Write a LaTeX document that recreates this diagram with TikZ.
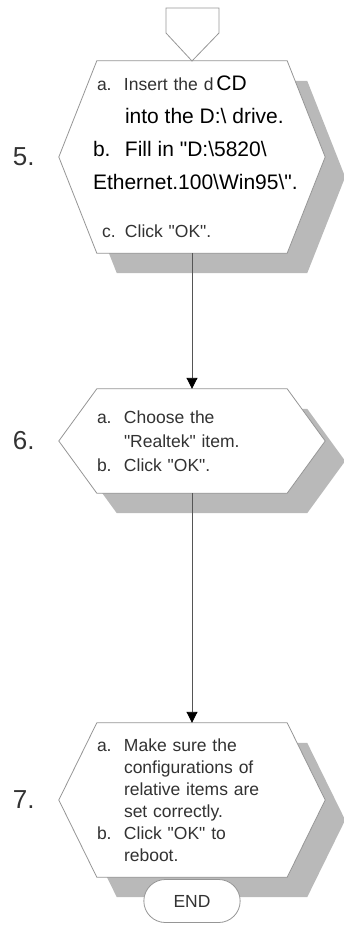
\documentclass[tikz,border=0pt]{standalone}
\usepackage{fontspec}
\setmainfont{Liberation Sans}[Ligatures=TeXOff]
\usepackage{xcolor}
\usepackage{tikz}
\usetikzlibrary{arrows.meta,shapes.misc,positioning,backgrounds}

\definecolor{hexgray}{RGB}{150,150,150}
\definecolor{shadegray}{RGB}{185,185,185}
\definecolor{textgray}{RGB}{50,50,50}
\definecolor{linegray}{RGB}{85,85,85}

\newcommand{\bigtxt}{\fontsize{21}{33}\selectfont\color{black}}
\newcommand{\itemlbl}[1]{\makebox[27pt][l]{#1}}

\begin{document}
\begin{tikzpicture}[x=1pt,y=-1pt,
		stepbox/.style={rectangle, inner sep=0pt, minimum width=190pt, text width=190pt, align=left, text=textgray},
		steplabel/.style={inner sep=0pt, text=textgray, font=\fontsize{26}{26}\selectfont},
		hexline/.style={draw=hexgray, fill=white, line width=0.8pt},
		flow/.style={draw=linegray, line width=0.9pt, -{Triangle[length=11pt,width=11pt,color=black]}},
		endbox/.style={rounded rectangle, draw=hexgray, fill=white, line width=0.8pt, minimum width=103pt, minimum height=43pt, text=textgray, font=\fontsize{17.5}{17.5}\selectfont}]
		\useasboundingbox (0,0) rectangle (343,928);

		% off-page connector on top
		\draw[hexgray, line width=0.8pt] (166,8) -- (219,8) -- (219,33) -- (192,61) -- (166,33) -- cycle;

		% step 5
		\node[stepbox, minimum height=192pt, font=\fontsize{17.5}{33}\selectfont] (s5) at (192,157) {
			\mbox{\itemlbl{a.}Insert the d\hspace{3pt}{\bigtxt CD}}\\
			\mbox{\hspace*{28pt}{\bigtxt into the D:\textbackslash{} drive.}}\\
			\mbox{\hspace*{-4pt}{\bigtxt \makebox[32pt][l]{b.}Fill in "D:\textbackslash5820\textbackslash}}\\
			\mbox{\hspace*{-4pt}{\bigtxt Ethernet.100\textbackslash Win95\textbackslash".}}\\[15pt]
			\mbox{\hspace*{5pt}\makebox[23pt][l]{c.}Click "OK".}
		};
		\node[steplabel, left=62pt of s5] (n5) {5.};

		% step 6
		\node[stepbox, minimum height=104pt, font=\fontsize{17.5}{24}\selectfont] (s6) at (192,441) {
			\itemlbl{a.}Choose the\\
			\hspace*{27pt}"Realtek" item.\\
			\itemlbl{b.}Click "OK".
		};
		\node[steplabel, left=62pt of s6] (n6) {6.};

		% step 7
		\node[stepbox, minimum height=154pt, font=\fontsize{17.5}{22}\selectfont] (s7) at (192,800) {
			\itemlbl{a.}Make sure the\\
			\hspace*{27pt}configurations of\\
			\hspace*{27pt}relative items are\\
			\hspace*{27pt}set correctly.\\
			\itemlbl{b.}Click "OK" to\\
			\hspace*{27pt}reboot.
		};
		\node[steplabel, left=62pt of s7] (n7) {7.};

		% hexagons and their shadows
		\begin{scope}[on background layer]
			\foreach \s in {s5,s6,s7} {
				\fill[shadegray] ([shift={(20,20)}]\s.north west) -- ([shift={(20,20)}]\s.north east) -- ([shift={(58,20)}]\s.east) -- ([shift={(20,20)}]\s.south east) -- ([shift={(20,20)}]\s.south west) -- ([shift={(-18,20)}]\s.west) -- cycle;
				\draw[hexline] (\s.north west) -- (\s.north east) -- ([xshift=38pt]\s.east) -- (\s.south east) -- (\s.south west) -- ([xshift=-38pt]\s.west) -- cycle;
			}
		\end{scope}

		\node[endbox] (end) at (192,901) {END};

		\draw[flow] (s5) -- (s6);
		\draw[flow] (s6) -- (s7);
	\end{tikzpicture}
\end{document}
